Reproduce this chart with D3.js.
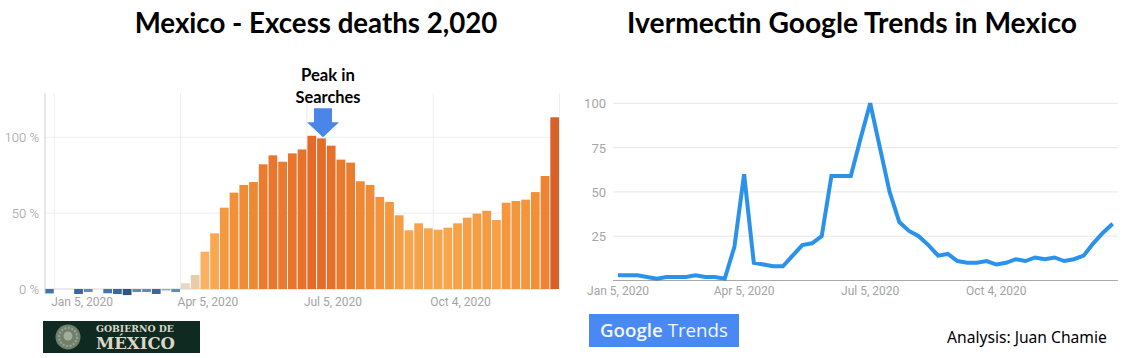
<!DOCTYPE html>
<html><head><meta charset="utf-8">
<script src="https://cdn.jsdelivr.net/npm/d3@7"></script>
<style>
body{margin:0;background:#fff;}
svg{display:block;}
</style></head><body>
<svg id="c" width="1143" height="358"></svg>
<script>
// ---------- DATA ----------
// Mexico weekly excess deaths (%), weeks from Dec 29, 2019 to Jan 3, 2021
const excessValues = [
  -2.9, 0, 0, -3.3, -2, 0, -2.8, -3.3, -4, -2, -2, -3.3, -1, -2,
  3.8, 9.2, 24.6, 36.7, 53.6, 63.5, 68.6, 70.5, 82.2, 88.1, 83.9, 89.4, 92,
  101, 99.3, 94.5, 85.3, 83.3, 71, 68.6, 60.7, 57.4, 48.6, 38.7, 43.3,
  40, 39.1, 40.4, 43.3, 47, 49.7, 51.6, 45.5, 56.9, 58, 58.9, 63.9, 74.5,
  113.2, 110.7
];
const excessTickWeeks = [1, 14, 27, 40];
const excessGridWeeks = [1, 14, 27, 40, 53];
const excessTickLabels = ["Jan 5, 2020", "Apr 5, 2020", "Jul 5, 2020", "Oct 4, 2020"];
const excessYTicks = [0, 50, 100];
const peakWeek = 28;

// Google Trends weekly interest, Jan 5 to Dec 27, 2020
const trendValues = [
  3, 3, 3, 2, 1, 2, 2, 2, 3, 2, 2, 1, 19, 60, 10, 9, 8, 8, 14, 20,
  21, 25, 59, 59, 59, 80, 100, 75, 50, 33, 28, 25, 20, 14, 15, 11,
  10, 10, 11, 9, 10, 12, 11, 13, 12, 13, 11, 12, 14, 21, 27, 32
];
const trendTickWeeks = [0, 13, 26, 39];
const trendTickLabels = ["Jan 5, 2020", "Apr 5, 2020", "Jul 5, 2020", "Oct 4, 2020"];
const trendYTicks = [25, 50, 75, 100];

const titles = ["Mexico - Excess deaths 2,020", "Ivermectin Google Trends in Mexico"];

// ---------- DRAW ----------
const svg = d3.select("#c");
const sans = "Lato, 'Open Sans', sans-serif";
const rob = "Roboto, 'Noto Sans', sans-serif";

function fit(sel, w) {
  const cur = parseFloat(sel.attr("font-size"));
  const len = sel.node().getComputedTextLength();
  sel.attr("font-size", (cur * w / len).toFixed(2));
}

// Titles
fit(svg.append("text").attr("x", 316).attr("y", 33).attr("text-anchor", "middle")
  .attr("font-family", sans).attr("font-weight", 700).attr("font-size", 26)
  .attr("fill", "#000").text(titles[0]), 363);
fit(svg.append("text").attr("x", 852).attr("y", 33).attr("text-anchor", "middle")
  .attr("font-family", sans).attr("font-weight", 700).attr("font-size", 26)
  .attr("fill", "#000").text(titles[1]), 450);

// ---- Left chart ----
const L = svg.append("g");
const xb = d3.scaleBand().domain(d3.range(excessValues.length))
  .range([45, 45 + excessValues.length * 9.7]).paddingInner(0.1).paddingOuter(0);
const yl = d3.scaleLinear().domain([0, 100]).range([289, 137.3]);
const color = d3.scaleLinear()
  .domain([-4, -3, -2, -0.5, 0, 5, 12, 22, 40, 60, 80, 100, 115])
  .range(["#2a5586", "#3f71a6", "#5f8cbb", "#a9c0d9", "#dde4ec", "#e9d3b8", "#e8c8a2",
          "#fbb365", "#f8a54c", "#f3943c", "#ec7e2e", "#e46b28", "#d65e29"])
  .interpolate(d3.interpolateRgb);

svg.append("defs").append("clipPath").attr("id", "lclip")
  .append("rect").attr("x", 44).attr("y", 80).attr("width", 515).attr("height", 230);

// horizontal gridlines
L.selectAll(".hg").data(excessYTicks.filter(d => d > 0)).join("line")
  .attr("x1", 45).attr("x2", 557).attr("y1", d => yl(d)).attr("y2", d => yl(d))
  .attr("stroke", "#eeeeee");
// vertical gridlines
L.selectAll(".vg").data(excessGridWeeks).join("line")
  .attr("x1", d => xb(d) - 0.5).attr("x2", d => xb(d) - 0.5)
  .attr("y1", 93).attr("y2", 289).attr("stroke", "#eeeeee");
// baseline
L.append("line").attr("x1", 45).attr("x2", 557).attr("y1", yl(0)).attr("y2", yl(0))
  .attr("stroke", "#d6d6d6");
// bars
L.append("g").attr("clip-path", "url(#lclip)")
  .selectAll("rect").data(excessValues).join("rect")
  .attr("x", (d, i) => xb(i)).attr("width", xb.bandwidth())
  .attr("y", d => Math.min(yl(d), yl(0)))
  .attr("height", d => Math.abs(yl(d) - yl(0)))
  .attr("fill", d => color(d));
// left axis line
L.append("line").attr("x1", 45).attr("x2", 45).attr("y1", 93).attr("y2", 293)
  .attr("stroke", "#cfcfcf");
// y labels
L.selectAll(".yl").data(excessYTicks).join("text")
  .attr("x", 39).attr("y", d => yl(d) + 4.5).attr("text-anchor", "end")
  .attr("font-family", rob).attr("font-weight", 300).attr("font-size", 13)
  .attr("fill", "#9a9a9a").text(d => d + " %");
// x labels
L.selectAll(".xl").data(excessTickWeeks).join("text")
  .attr("x", d => xb(d) - 3.5).attr("y", 306)
  .attr("font-family", rob).attr("font-size", 12).attr("fill", "#a3a3a3")
  .text((d, i) => excessTickLabels[i]);

// Annotation arrow pointing to peak week
const ax = xb(peakWeek) + xb.bandwidth() / 2 + 1.5;
const tipY = yl(excessValues[peakWeek]) - 1;
svg.append("path")
  .attr("d", `M${ax - 9},${tipY - 29} L${ax + 9},${tipY - 29} L${ax + 9},${tipY - 15}
    L${ax + 16},${tipY - 15} L${ax},${tipY} L${ax - 16},${tipY - 15} L${ax - 9},${tipY - 15} Z`)
  .attr("fill", "#4a86e8");
fit(svg.append("text").attr("x", ax + 5).attr("y", 81).attr("text-anchor", "middle")
  .attr("font-family", sans).attr("font-weight", 700).attr("font-size", 15)
  .attr("fill", "#000").text("Peak in"), 54);
fit(svg.append("text").attr("x", ax + 5).attr("y", 103).attr("text-anchor", "middle")
  .attr("font-family", sans).attr("font-weight", 700).attr("font-size", 15)
  .attr("fill", "#000").text("Searches"), 65);

// ---- Right chart ----
const R = svg.append("g");
const xr = d3.scaleLinear().domain([0, trendValues.length - 1]).range([618, 1112.7]);
const yr = d3.scaleLinear().domain([0, 100]).range([280.5, 103.3]);
R.selectAll(".hg").data(trendYTicks).join("line")
  .attr("x1", 613).attr("x2", 1118).attr("y1", d => yr(d)).attr("y2", d => yr(d))
  .attr("stroke", "#e6e6e6");
R.append("line").attr("x1", 613).attr("x2", 1118).attr("y1", yr(0)).attr("y2", yr(0))
  .attr("stroke", "#a8a8a8");
R.selectAll(".yl").data(trendYTicks).join("text")
  .attr("x", 606).attr("y", d => yr(d) + 5).attr("text-anchor", "end")
  .attr("font-family", rob).attr("font-size", 13).attr("fill", "#a6a6a6").text(d => d);
R.selectAll(".xl").data(trendTickWeeks).join("text")
  .attr("x", d => xr(d)).attr("y", 295).attr("text-anchor", "middle")
  .attr("font-family", rob).attr("font-size", 12).attr("fill", "#a3a3a3")
  .text((d, i) => trendTickLabels[i]);
R.append("path").datum(trendValues)
  .attr("d", d3.line().x((d, i) => xr(i)).y(d => yr(d)))
  .attr("fill", "none").attr("stroke", "#2b92ec").attr("stroke-width", 4)
  .attr("stroke-linejoin", "miter").attr("stroke-miterlimit", 3);

// ---- Logos / credits ----
const G = svg.append("g");
G.append("rect").attr("x", 43).attr("y", 321).attr("width", 157).attr("height", 32).attr("fill", "#0f2a21");
G.append("circle").attr("cx", 68).attr("cy", 337).attr("r", 12.5).attr("fill", "#6f7f6c");
G.append("circle").attr("cx", 68).attr("cy", 337).attr("r", 9).attr("fill", "none")
  .attr("stroke", "#9aa593").attr("stroke-width", 2).attr("stroke-dasharray", "2 1.5");
G.append("circle").attr("cx", 68).attr("cy", 336).attr("r", 4.5).attr("fill", "#a4ad98");
fit(G.append("text").attr("x", 96).attr("y", 332).attr("font-family", "'DejaVu Serif', serif")
  .attr("font-weight", 700).attr("font-size", 8).attr("fill", "#ddd6c6").text("GOBIERNO DE"), 78);
fit(G.append("text").attr("x", 96).attr("y", 349).attr("font-family", "'DejaVu Serif', serif")
  .attr("font-weight", 700).attr("font-size", 16).attr("fill", "#ddd6c6").text("MÉXICO"), 79);

G.append("rect").attr("x", 589).attr("y", 314).attr("width", 150).attr("height", 33).attr("fill", "#4a89f3");
const gt = G.append("text").attr("x", 664).attr("y", 337).attr("text-anchor", "middle")
  .attr("font-family", "'Open Sans', sans-serif").attr("font-size", 18).attr("fill", "#f2f6fe");
gt.append("tspan").attr("font-weight", 600).text("Google");
gt.append("tspan").attr("font-weight", 400).text(" Trends");
fit(gt, 128);

fit(svg.append("text").attr("x", 947).attr("y", 343).attr("font-family", "'Noto Sans', sans-serif")
  .attr("font-size", 14).attr("fill", "#000").text("Analysis: Juan Chamie"), 160);
</script>
</body></html>
